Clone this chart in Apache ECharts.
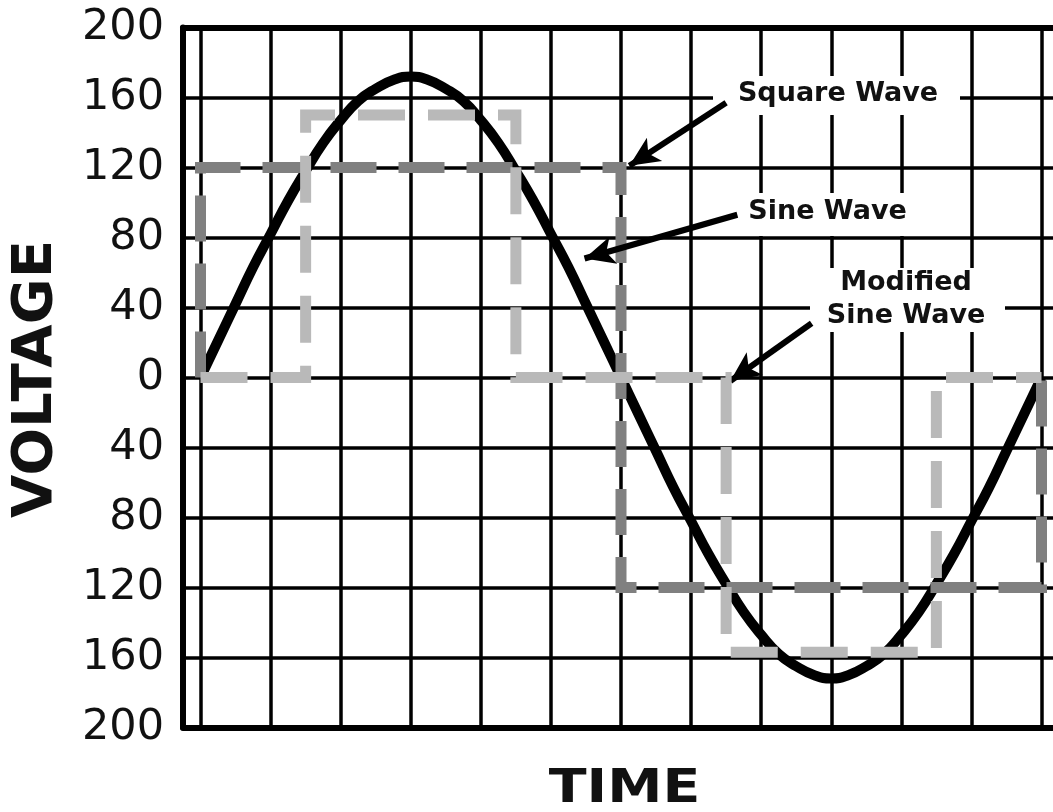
<!DOCTYPE html>
<html>
<head>
<meta charset="utf-8">
<script src="https://cdn.jsdelivr.net/npm/echarts@6/dist/echarts.min.js"></script>
<style>
  html, body { margin: 0; padding: 0; background: #ffffff; }
  #chart { width: 1053px; height: 812px; }
</style>
</head>
<body>
<div id="chart"></div>
<script>
// ---- data ----
const yTickValues = [-200, -160, -120, -80, -40, 0, 40, 80, 120, 160, 200];
const sineTimes  = [0, 0.25, 0.5, 0.75, 1, 1.25, 1.5, 1.75, 2, 2.25, 2.5, 2.75, 3,
                    3.25, 3.5, 3.75, 4, 4.25, 4.5, 4.75, 5, 5.25, 5.5, 5.75, 6,
                    6.25, 6.5, 6.75, 7, 7.25, 7.5, 7.75, 8, 8.25, 8.5, 8.75, 9,
                    9.25, 9.5, 9.75, 10, 10.25, 10.5, 10.75, 11, 11.25, 11.5, 11.75, 12];
const sineValues = [0, 21, 42, 63, 82, 101, 118, 134, 147, 158, 165, 170, 172,
                    170, 165, 158, 147, 134, 118, 101, 82, 63, 42, 21, 0,
                    -21, -42, -63, -82, -101, -118, -134, -147, -158, -165, -170, -172,
                    -170, -165, -158, -147, -134, -118, -101, -82, -63, -42, -21, 0];
const squareTimes  = [0, 0, 6, 6, 12, 12];
const squareValues = [0, 120, 120, -120, -120, 0];
const modTimes  = [0, 1.5, 1.5, 4.5, 4.5, 7.5, 7.5, 10.5, 10.5, 12];
const modValues = [0, 0, 150, 150, 0, 0, -157, -157, 0, 0];
const labels = ['Square Wave', 'Sine Wave', 'Modified\nSine Wave'];
// arrow [tail, tip] in data units (time, voltage)
const arrowTails = [[7.50, 157], [7.66, 93], [8.72, 31]];
const arrowTips  = [[6.12, 121], [5.48, 68], [7.56, -2]];

const zip = (xs, ys) => xs.map((x, i) => [x, ys[i]]);

const chart = echarts.init(document.getElementById('chart'), null, { renderer: 'canvas' });

const TOP = 27.5, BOTTOM = 84.5;
const frameAxis = (pos) => ({
  gridIndex: 0, type: 'value', min: 0, max: 1, position: pos,
  axisLine: { show: true, onZero: false, lineStyle: { color: '#000', width: 6 } },
  axisTick: { show: false }, axisLabel: { show: false }, splitLine: { show: false }
});
const option = {
  animation: false,
  backgroundColor: '#ffffff',
  grid: [
    { left: 183, right: 0, top: TOP, bottom: BOTTOM },
    { left: 200.5, right: 11.5, top: TOP, bottom: BOTTOM }
  ],
  xAxis: [
    frameAxis('bottom'),
    frameAxis('top'),
    { gridIndex: 1, type: 'value', min: 0, max: 12, interval: 1, position: 'bottom',
      axisLine: { show: false, onZero: false }, axisTick: { show: false }, axisLabel: { show: false },
      splitLine: { show: true, lineStyle: { color: '#000', width: 3.5 } } }
  ],
  yAxis: [
    { gridIndex: 0, type: 'value', min: yTickValues[0], max: yTickValues[yTickValues.length - 1], interval: 40,
      axisLine: { show: true, onZero: false, lineStyle: { color: '#000', width: 6 } },
      axisTick: { show: false },
      axisLabel: { show: true, margin: 19, color: '#111', fontFamily: 'DejaVu Sans', fontSize: 43,
                   formatter: v => String(Math.abs(v)) },
      splitLine: { show: true, lineStyle: { color: '#000', width: 3.5 } } },
    { gridIndex: 1, type: 'value', min: -200, max: 200, show: false }
  ],
  series: [
    { name: 'Sine Wave', type: 'line', xAxisIndex: 2, yAxisIndex: 1, z: 3,
      data: zip(sineTimes, sineValues), smooth: 0.5, symbol: 'none', clip: false,
      lineStyle: { color: '#000', width: 10 } },
    { name: 'Square Wave', type: 'line', xAxisIndex: 2, yAxisIndex: 1, z: 4,
      data: zip(squareTimes, squareValues), symbol: 'none', clip: false,
      lineStyle: { color: '#808080', width: 11, type: [46, 22], cap: 'butt', join: 'miter' } },
    { name: 'Modified Sine Wave', type: 'line', xAxisIndex: 2, yAxisIndex: 1, z: 10,
      data: zip(modTimes, modValues), symbol: 'none', clip: false,
      lineStyle: { color: '#b9b9b9', width: 11, type: [47, 23], cap: 'butt', join: 'miter' },
      markLine: {
        silent: true, animation: false,
        symbol: ['none', 'arrow'], symbolSize: [21, 30],
        label: { show: false },
        lineStyle: { color: '#000', width: 6, type: 'solid' },
        emphasis: { disabled: true },
        data: arrowTails.map((t, i) => [{ coord: t }, { coord: arrowTips[i] }])
      } }
  ],
  graphic: [
    { type: 'rect', z: 5, shape: { x: 713, y: 76, width: 247, height: 39 }, style: { fill: '#fff' } },
    { type: 'rect', z: 5, shape: { x: 727, y: 193, width: 201, height: 43 }, style: { fill: '#fff' } },
    { type: 'rect', z: 5, shape: { x: 810, y: 268, width: 195, height: 64 }, style: { fill: '#fff' } },
    { type: 'text', z: 6, x: 838, y: 94,
      style: { text: labels[0], font: 'bold 27px "DejaVu Sans"', fill: '#111', align: 'center', verticalAlign: 'middle' } },
    { type: 'text', z: 6, x: 827.5, y: 212,
      style: { text: labels[1], font: 'bold 27px "DejaVu Sans"', fill: '#111', align: 'center', verticalAlign: 'middle' } },
    { type: 'text', z: 6, x: 906, y: 299.5,
      style: { text: labels[2], font: 'bold 27px "DejaVu Sans"', lineHeight: 33, fill: '#111', align: 'center', verticalAlign: 'middle' } },
    { type: 'text', z: 6, x: 36, y: 379, rotation: Math.PI / 2,
      style: { text: 'VOLTAGE', font: 'bold 56px "DejaVu Sans"', fill: '#111', align: 'center', verticalAlign: 'middle' } },
    { type: 'text', z: 6, x: 624.5, y: 790, scaleX: 1.18,
      style: { text: 'TIME', font: 'bold 47px "DejaVu Sans"', fill: '#111', align: 'center', verticalAlign: 'middle' } }
  ]
};
chart.setOption(option);
</script>
</body>
</html>
